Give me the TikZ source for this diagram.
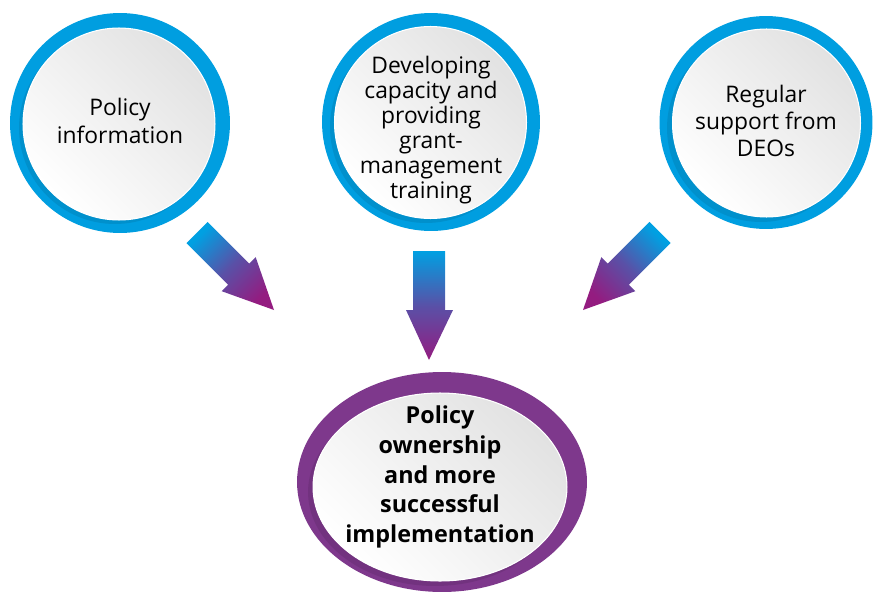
\documentclass[tikz,border=0pt]{standalone}
\usepackage{fontspec}
\setmainfont{Open Sans}
\usetikzlibrary{shapes.geometric}
\definecolor{ringblue}{RGB}{0,158,224}
\definecolor{ringpurple}{RGB}{126,56,140}
\definecolor{arrowblue}{RGB}{0,160,226}
\definecolor{arrowpurple}{RGB}{148,28,128}
\definecolor{discgray}{RGB}{226,226,226}
\begin{document}
\begin{tikzpicture}[x=0.02cm,y=-0.02cm,
    ring/.style={circle,fill=ringblue,inner sep=0pt,minimum size=#1},
    shadow/.style={circle,fill=ringblue!65!black,opacity=0.25,inner sep=0pt,minimum size=#1},
    disc/.style={circle,inner sep=0pt,minimum size=#1,top color=discgray,bottom color=white,
        shading angle=-45,draw=white,line width=0.6pt},
    txt/.style={align=center,text=black,font=\fontsize{13}{#1}\selectfont},
    fade/.style={top color=arrowblue,bottom color=arrowpurple,middle color=arrowblue!40!arrowpurple}]
    \useasboundingbox (0,0) rectangle (873,595);

    % top circles
    \node[ring=4.4cm] (polring) at (120,123) {};
    \node[shadow=3.84cm] (polshadow) at (115,128) {};
    \node[disc=3.84cm] (poldisc) at (119,124) {};
    \node[txt=15.9pt] (poltext) at (120,121) {Policy\\information};

    \node[ring=4.36cm] (devring) at (431,122) {};
    \node[shadow=3.84cm] (devshadow) at (426,127) {};
    \node[disc=3.84cm] (devdisc) at (430.5,122.5) {};
    \node[txt=14.2pt] (devtext) at (431,130) {Developing\\capacity and\\providing\\grant-\\management\\training};

    \node[ring=4.26cm] (deoring) at (766,122.5) {};
    \node[shadow=3.76cm] (deoshadow) at (761,128) {};
    \node[disc=3.76cm] (deodisc) at (766.5,123) {};
    \node[txt=15.6pt] (deotext) at (766,121) {Regular\\support from\\DEOs};

    % bottom ellipse
    \node[ellipse,fill=ringpurple,inner sep=0pt,minimum width=5.8cm,minimum height=4.4cm] (ownring) at (442,482) {};
    \node[ellipse,fill=ringpurple!65!black,opacity=0.25,inner sep=0pt,minimum width=5.08cm,minimum height=3.76cm] (ownshadow) at (435,492) {};
    \node[ellipse,inner sep=0pt,minimum width=5.08cm,minimum height=3.76cm,top color=discgray,bottom color=white,
        shading angle=-45,draw=white,line width=0.6pt] (owndisc) at (440,487) {};
    \node[align=center,text=black,font=\fontsize{13.3}{17pt}\selectfont\bfseries] (owntext) at (440,477)
        {Policy\\ownership\\and more\\successful\\implementation};

    % arrows
    \shade[fade,shading angle=45] (207.6,221.9) -- (249.3,263.6) -- (255.7,257.2) -- (274,310)
        -- (221.7,291.2) -- (228.1,284.8) -- (186.4,243.1) -- cycle;
    \shade[fade] (413,251) -- (445,251) -- (445,310) -- (453,310) -- (429,360) -- (406,310) -- (413,310) -- cycle;
    \shade[fade,shading angle=-45] (649.4,221.9) -- (607.7,263.6) -- (601.3,257.2) -- (583,310)
        -- (635.3,291.2) -- (628.9,284.8) -- (670.6,243.1) -- cycle;
\end{tikzpicture}
\end{document}
